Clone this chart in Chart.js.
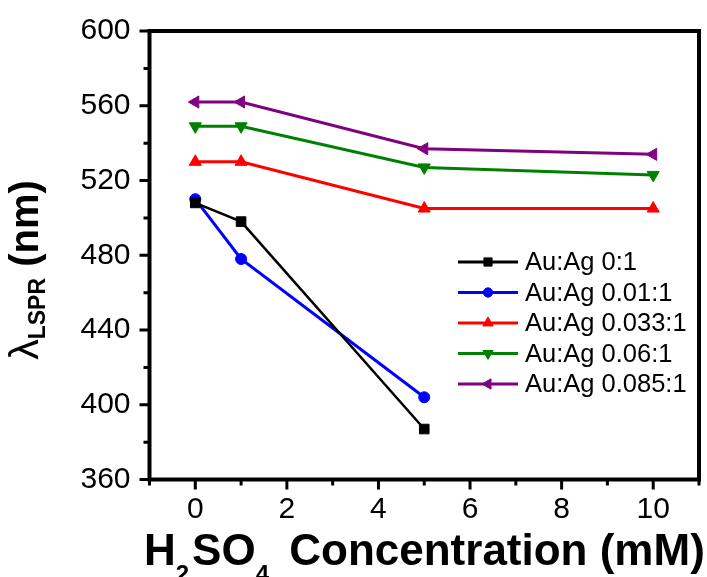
<!DOCTYPE html>
<html>
<head>
<meta charset="utf-8">
<title>LSPR vs H2SO4</title>
<script src="https://cdn.jsdelivr.net/npm/chart.js@4.4.1/dist/chart.umd.min.js"></script>
<style>
  html, body { margin: 0; padding: 0; background: #fff; }
  #wrap { width: 707px; height: 577px; }
</style>
</head>
<body>
<div id="wrap"><canvas id="lsprChart"></canvas></div>
<script>
// H2SO4 concentration (mM) and LSPR peak position (nm) per Au:Ag ratio
var concentration = [0, 1, 5, 10];
var ratio0    = [508, 498, 387, null];
var ratio001  = [510, 478, 404, null];
var ratio0033 = [530, 530, 505, 505];
var ratio006  = [549, 549, 527, 523];
var ratio0085 = [562, 562, 537, 534];
var seriesNames = ['Au:Ag 0:1', 'Au:Ag 0.01:1', 'Au:Ag 0.033:1', 'Au:Ag 0.06:1', 'Au:Ag 0.085:1'];
var xTicks = [0, 2, 4, 6, 8, 10];
var yTicks = [360, 400, 440, 480, 520, 560, 600];

var FONT = "'Liberation Sans', Arial, sans-serif";

function toPoints(values) {
	var pts = [];
	for (var i = 0; i < concentration.length; i++) {
		if (values[i] !== null) pts.push({x: concentration[i], y: values[i]});
	}
	return pts;
}

function series(idx, values, color, style, rotation, radius, width) {
	return {
		label: seriesNames[idx],
		data: toPoints(values),
		borderColor: color,
		backgroundColor: color,
		pointBackgroundColor: color,
		pointBorderColor: color,
		pointBorderWidth: 1,
		pointStyle: style,
		pointRotation: rotation,
		pointRadius: radius,
		borderWidth: width,
		tension: 0
	};
}

var datasets = [
	series(0, ratio0, '#000000', 'rect', 0, 6.8, 2.5),
	series(1, ratio001, '#0000ff', 'circle', 0, 5.5, 3),
	series(2, ratio0033, '#ff0000', 'triangle', 0, 7, 3),
	series(3, ratio006, '#008000', 'triangle', 180, 7, 3),
	series(4, ratio0085, '#800080', 'triangle', 270, 7, 3)
];

function marker(ctx, opts, x, y) {
	if (Chart.helpers && Chart.helpers.drawPoint) {
		Chart.helpers.drawPoint(ctx, opts, x, y);
		return;
	}
	ctx.beginPath();
	ctx.arc(x, y, opts.radius, 0, Math.PI * 2);
	ctx.fill();
}

// frame, ticks, axis titles and legend
var decorations = {
	id: 'decorations',
	afterDraw: function(chart) {
		var ctx = chart.ctx;
		var a = chart.chartArea;
		var xs = chart.scales.x, ys = chart.scales.y;
		ctx.save();
		ctx.strokeStyle = '#000';
		ctx.lineWidth = 4;
		ctx.strokeRect(a.left, a.top, a.right - a.left, a.bottom - a.top);

		ctx.lineWidth = 3;
		ctx.beginPath();
		for (var v = xs.min; v <= xs.max + 1e-9; v += 1) {
			var px = xs.getPixelForValue(v);
			var lx = (v % 2 === 0) ? 10 : 6;
			ctx.moveTo(px, a.bottom);
			ctx.lineTo(px, a.bottom + lx);
		}
		for (var w = ys.min; w <= ys.max + 1e-9; w += 20) {
			var py = ys.getPixelForValue(w);
			var ly = (w % 40 === 0) ? 10 : 6;
			ctx.moveTo(a.left, py);
			ctx.lineTo(a.left - ly, py);
		}
		ctx.stroke();

		// x title: H2SO4 Concentration (mM)
		ctx.fillStyle = '#000';
		ctx.textBaseline = 'alphabetic';
		ctx.textAlign = 'left';
		var big = 'bold 44px ' + FONT, sub = 'bold 24px ' + FONT;
		var parts = [['H', big, 0, 0], ['2', sub, 17, 3], ['SO', big, 0, 0], ['4', sub, 17, 8], [' Concentration (mM)', big, 0, 0]];
		var x = 144, base = 565;
		parts.forEach(function(p) {
			ctx.font = p[1];
			ctx.fillText(p[0], x, base + p[2]);
			x += ctx.measureText(p[0]).width + p[3];
		});

		// y title: λLSPR (nm), rotated
		ctx.save();
		ctx.translate(38, 270);
		ctx.rotate(-Math.PI / 2);
		var yparts = [['\u03bb', '41px ' + FONT, 0], ['LSPR', 'bold 23px ' + FONT, 7], [' (nm)', 'bold 40px ' + FONT, 0]];
		var total = 0;
		yparts.forEach(function(p) { ctx.font = p[1]; total += ctx.measureText(p[0]).width; });
		var t = -total / 2;
		yparts.forEach(function(p) {
			ctx.font = p[1];
			ctx.fillText(p[0], t, p[2]);
			t += ctx.measureText(p[0]).width;
		});
		ctx.restore();

		// legend
		var rowY = 262, rowGap = 30.5;
		ctx.font = '25.5px ' + FONT;
		ctx.textBaseline = 'middle';
		chart.data.datasets.forEach(function(ds, i) {
			var y = rowY + i * rowGap;
			ctx.strokeStyle = ds.borderColor;
			ctx.fillStyle = ds.borderColor;
			ctx.lineWidth = 3;
			ctx.beginPath();
			ctx.moveTo(458, y);
			ctx.lineTo(518, y);
			ctx.stroke();
			ctx.lineWidth = 1;
			marker(ctx, {pointStyle: ds.pointStyle, rotation: ds.pointRotation, radius: ds.pointRadius * 0.85, borderWidth: 1}, 488, y);
			ctx.fillStyle = '#000';
			ctx.fillText(ds.label, 525, y + 1);
		});
		ctx.restore();
	}
};

var tickFont = {family: FONT, size: 30};

new Chart(document.getElementById('lsprChart'), {
	type: 'line',
	data: {datasets: datasets},
	options: {
		responsive: true,
		maintainAspectRatio: false,
		devicePixelRatio: 1,
		animation: false,
		layout: {padding: {top: 31, right: 8, left: 0, bottom: 0}},
		plugins: {legend: {display: false}, tooltip: {enabled: false}},
		scales: {
			x: {
				type: 'linear',
				min: -1,
				max: 11,
				grid: {display: false},
				border: {display: false},
				ticks: {font: tickFont, color: '#000', padding: 4, maxRotation: 0},
				afterBuildTicks: function(scale) {
					scale.ticks = xTicks.map(function(v) { return {value: v}; });
				},
				afterFit: function(scale) { scale.height = 97.5; }
			},
			y: {
				min: 360,
				max: 600,
				grid: {display: false},
				border: {display: false},
				ticks: {font: tickFont, color: '#000', padding: 11},
				afterBuildTicks: function(scale) {
					scale.ticks = yTicks.map(function(v) { return {value: v}; });
				},
				afterFit: function(scale) { scale.width = 149.5; }
			}
		}
	},
	plugins: [decorations]
});
</script>
</body>
</html>
